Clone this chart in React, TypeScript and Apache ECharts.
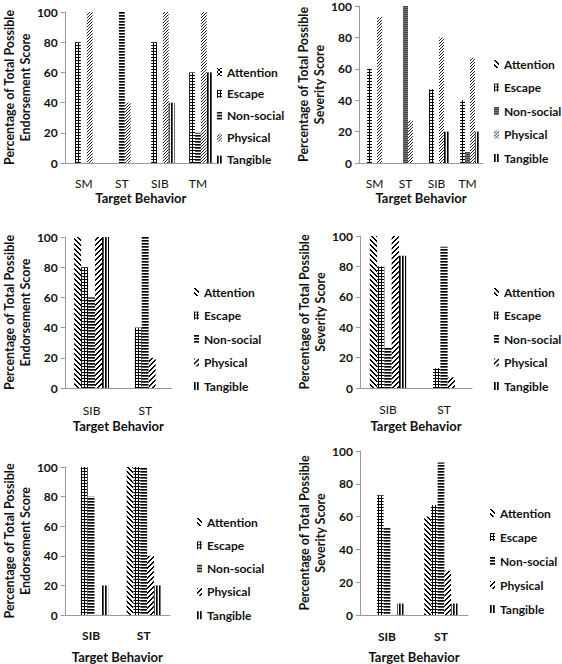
import React, { useEffect, useRef } from 'react';
import * as echarts from 'echarts';

const seriesNames = ['Attention', 'Escape', 'Non-social', 'Physical', 'Tangible'];

// Panel 1: endorsement, four behaviors
const cats1 = ['SM', 'ST', 'SIB', 'TM'];
const p1Attention = [0, 0, 0, 0];
const p1Escape = [80, 0, 80, 60];
const p1NonSocial = [0, 100, 0, 20];
const p1Physical = [100, 40, 100, 100];
const p1Tangible = [0, 0, 40, 60];

// Panel 2: severity, four behaviors
const cats2 = ['SM', 'ST', 'SIB', 'TM'];
const p2Attention = [0, 0, 0, 0];
const p2Escape = [60, 0, 47, 40];
const p2NonSocial = [0, 100, 0, 7];
const p2Physical = [93, 27, 80, 67];
const p2Tangible = [0, 0, 20, 20];

// Panel 3: endorsement
const cats3 = ['SIB', 'ST'];
const p3Attention = [100, 0];
const p3Escape = [80, 40];
const p3NonSocial = [60, 100];
const p3Physical = [100, 20];
const p3Tangible = [100, 0];

// Panel 4: severity
const cats4 = ['SIB', 'ST'];
const p4Attention = [100, 0];
const p4Escape = [80, 13];
const p4NonSocial = [27, 93];
const p4Physical = [100, 7];
const p4Tangible = [87, 0];

// Panel 5: endorsement
const cats5 = ['SIB', 'ST'];
const p5Attention = [0, 100];
const p5Escape = [100, 100];
const p5NonSocial = [80, 100];
const p5Physical = [0, 40];
const p5Tangible = [20, 20];

// Panel 6: severity
const cats6 = ['SIB', 'ST'];
const p6Attention = [0, 60];
const p6Escape = [73, 67];
const p6NonSocial = [53, 93];
const p6Physical = [0, 27];
const p6Tangible = [7, 7];

const xTitle = 'Target Behavior';
const yTitleEndorse = 'Percentage of Total Possible\nEndorsement Score';
const yTitleSeverity = 'Percentage of Total Possible\nSeverity Score';

const FONT = 'Lato';
const INK = '#111';

type Px = (x: number, y: number, c?: string) => void;

function tile(w: number, h: number, draw: (px: Px) => void): any {
  const c = document.createElement('canvas');
  c.width = w;
  c.height = h;
  const ctx = c.getContext('2d') as CanvasRenderingContext2D;
  ctx.fillStyle = '#fff';
  ctx.fillRect(0, 0, w, h);
  const px: Px = (x, y, col = '#000') => {
    ctx.fillStyle = col;
    ctx.fillRect(((x % w) + w) % w, ((y % h) + h) % h, 1, 1);
  };
  draw(px);
  return { image: c.toDataURL(), repeat: 'repeat', imageWidth: w, imageHeight: h };
}

function makePatterns(): Record<string, any> {
  return {
    grid: tile(3, 3, (p) => {
      for (let i = 0; i < 3; i++) { p(i, 0); p(0, i); }
    }),
    horiz: tile(3, 3, (p) => {
      for (let i = 0; i < 3; i++) { p(i, 0); p(i, 1, '#555'); }
    }),
    vert: tile(3, 3, (p) => {
      for (let i = 0; i < 3; i++) { p(0, i); p(1, i, '#555'); }
    }),
    diagDown: tile(5, 5, (p) => {
      for (let i = 0; i < 5; i++) { p(i, i); p(i + 1, i); }
    }),
    diagUp: tile(5, 5, (p) => {
      for (let i = 0; i < 5; i++) { p(4 - i, i); p(5 - i, i); }
    }),
    fineDiag: tile(3, 3, (p) => {
      for (let i = 0; i < 3; i++) { p(2 - i, i, '#222'); }
    }),
    crossDense: tile(4, 4, (p) => {
      for (let i = 0; i < 4; i++) { p(i, i); p(3 - i, i); }
    }),
    darkGray: tile(2, 2, (p) => {
      p(0, 0, '#444'); p(1, 0, '#444'); p(0, 1, '#777'); p(1, 1, '#777');
    }),
  };
}

const panels = [
  {
    cats: cats1, values: [p1Attention, p1Escape, p1NonSocial, p1Physical, p1Tangible], yName: yTitleEndorse,
    pats: ['crossDense', 'grid', 'horiz', 'fineDiag', 'vert'],
    grid: { left: 60, top: 12, width: 157, height: 151 }, catGap: '23%',
    legend: { left: 217, top: 66, gap: 9.9 }, catBold: false, catMargin: 14, xNameGap: 28,
  },
  {
    cats: cats2, values: [p2Attention, p2Escape, p2NonSocial, p2Physical, p2Tangible], yName: yTitleSeverity,
    pats: ['diagDown', 'grid', 'darkGray', 'fineDiag', 'vert'],
    grid: { left: 359, top: 5, width: 124, height: 158 }, catGap: '20%',
    legend: { left: 494, top: 58, gap: 11.5 }, catBold: false, catMargin: 14, xNameGap: 28,
  },
  {
    cats: cats3, values: [p3Attention, p3Escape, p3NonSocial, p3Physical, p3Tangible], yName: yTitleEndorse,
    pats: ['diagDown', 'grid', 'horiz', 'diagUp', 'vert'],
    grid: { left: 60, top: 237, width: 112, height: 151 }, catGap: '35%',
    legend: { left: 194, top: 286, gap: 11.5 }, catBold: false, catMargin: 16, xNameGap: 31,
  },
  {
    cats: cats4, values: [p4Attention, p4Escape, p4NonSocial, p4Physical, p4Tangible], yName: yTitleSeverity,
    pats: ['diagDown', 'grid', 'horiz', 'diagUp', 'vert'],
    grid: { left: 360, top: 236, width: 112, height: 152 }, catGap: '35%',
    legend: { left: 494, top: 286, gap: 11.5 }, catBold: false, catMargin: 15, xNameGap: 31,
  },
  {
    cats: cats5, values: [p5Attention, p5Escape, p5NonSocial, p5Physical, p5Tangible], yName: yTitleEndorse,
    pats: ['diagDown', 'grid', 'horiz', 'diagUp', 'vert'],
    grid: { left: 60, top: 467, width: 110, height: 148 }, catGap: '35%',
    legend: { left: 197, top: 516, gap: 11.3 }, catBold: true, catMargin: 14, xNameGap: 35,
  },
  {
    cats: cats6, values: [p6Attention, p6Escape, p6NonSocial, p6Physical, p6Tangible], yName: yTitleSeverity,
    pats: ['diagDown', 'grid', 'horiz', 'diagUp', 'vert'],
    grid: { left: 360, top: 451, width: 108, height: 164 }, catGap: '38%',
    legend: { left: 490, top: 507, gap: 12 }, catBold: true, catMargin: 15, xNameGap: 35,
  },
];

export default function App() {
  const ref = useRef<HTMLDivElement>(null);
  useEffect(() => {
    if (!ref.current) return;
    const chart = echarts.init(ref.current, undefined, { renderer: 'svg' });
    const P = makePatterns();
    const grids: any[] = [];
    const xAxes: any[] = [];
    const yAxes: any[] = [];
    const legends: any[] = [];
    const series: any[] = [];
    panels.forEach((pn, idx) => {
      grids.push({ ...pn.grid, containLabel: false });
      xAxes.push({
        type: 'category', gridIndex: idx, data: pn.cats,
        axisLine: { lineStyle: { color: '#999', width: 1 } },
        axisTick: { show: false },
        axisLabel: { color: INK, fontFamily: FONT, fontSize: 12, fontWeight: pn.catBold ? 'bold' : 'normal', margin: pn.catMargin },
        name: xTitle, nameLocation: 'middle', nameGap: pn.xNameGap,
        nameTextStyle: { color: INK, fontFamily: FONT, fontSize: 13, fontWeight: 'bold' },
      });
      yAxes.push({
        type: 'value', gridIndex: idx, min: 0, max: 100, interval: 20,
        axisLine: { show: true, lineStyle: { color: '#999', width: 1 } },
        axisTick: { show: true, length: 4, lineStyle: { color: '#999' } },
        splitLine: { show: false },
        axisLabel: { color: INK, fontFamily: FONT, fontSize: 12, fontWeight: 'bold', margin: 7 },
        name: pn.yName, nameLocation: 'middle', nameGap: 31, nameRotate: 90,
        nameTextStyle: { color: INK, fontFamily: FONT, fontSize: 12.5, fontWeight: 'bold', lineHeight: 16 },
      });
      const names: string[] = [];
      seriesNames.forEach((s, k) => {
        const nm = s + '#' + (idx + 1);
        names.push(nm);
        series.push({
          type: 'bar', name: nm, xAxisIndex: idx, yAxisIndex: idx,
          data: pn.values[k], barGap: '0%', barCategoryGap: pn.catGap,
          itemStyle: { color: P[pn.pats[k]] },
          emphasis: { disabled: true },
        });
      });
      legends.push({
        orient: 'vertical', left: pn.legend.left, top: pn.legend.top, padding: 0,
        itemWidth: 5, itemHeight: 8, itemGap: pn.legend.gap, icon: 'rect',
        selectedMode: false, data: names,
        formatter: (n: string) => n.split('#')[0],
        textStyle: { color: INK, fontFamily: FONT, fontSize: 12, fontWeight: 'bold' },
      });
    });
    chart.setOption({
      animation: false,
      backgroundColor: '#fff',
      grid: grids,
      xAxis: xAxes,
      yAxis: yAxes,
      legend: legends,
      series,
    });
    return () => chart.dispose();
  }, []);
  return (
    <div
      ref={ref}
      style={{ position: 'absolute', left: 0, top: 0, width: 562, height: 664, background: '#fff' }}
    />
  );
}
